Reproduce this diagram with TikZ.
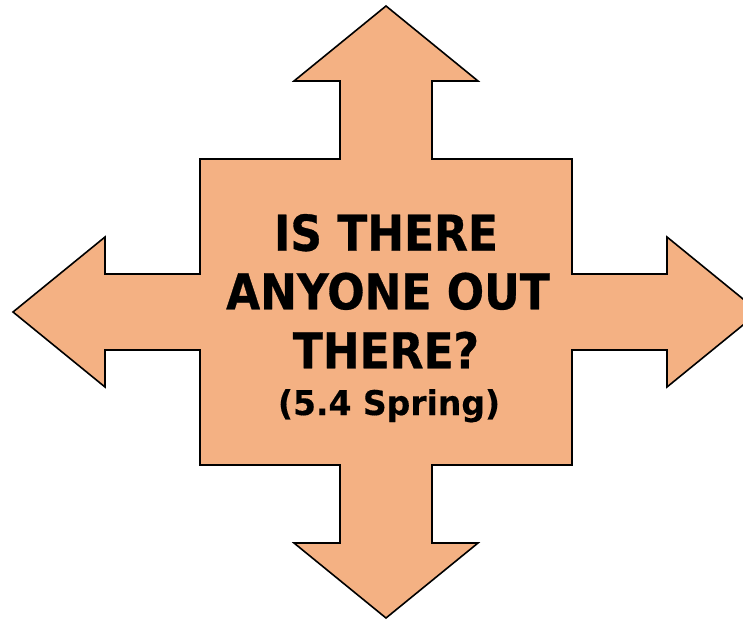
\documentclass[tikz,border=0pt]{standalone}
\usepackage{fontspec}
\usepackage{xcolor}
\usepackage{tikz}
\newfontfamily\titlefont{DejaVu Sans}[FakeStretch=0.89,FakeBold=0.6]
\newfontfamily\seasonfont{DejaVu Sans}[FakeStretch=0.97,FakeBold=0.4]

\begin{document}
\begin{tikzpicture}[x=1pt,y=-1pt]
      \definecolor{cA}{RGB}{244,177,131}
      \useasboundingbox (0,0) rectangle (743,620);
      % four-way arrow
      \draw[fill=cA,line width=1.6pt,line join=miter]
        (386,6) -- (478,81) -- (432,81) -- (432,159) -- (572,159) -- (572,274)
        -- (667,274) -- (667,237) -- (759,312) -- (667,387) -- (667,350) -- (572,350)
        -- (572,465) -- (432,465) -- (432,543) -- (478,543) -- (386,618) -- (294,543)
        -- (340,543) -- (340,465) -- (200,465) -- (200,350) -- (105,350) -- (105,387)
        -- (13,312) -- (105,237) -- (105,274) -- (200,274) -- (200,159) -- (340,159)
        -- (340,81) -- (294,81) -- cycle;
      \node[anchor=base,font=\titlefont\bfseries\fontsize{49.4}{59}\selectfont] (line1) at (386,250.7) {IS THERE};
      \node[anchor=base,font=\titlefont\bfseries\fontsize{49.4}{59}\selectfont] (line2) at (388,309.3) {ANYONE OUT};
      \node[anchor=base,font=\titlefont\bfseries\fontsize{49.4}{59}\selectfont] (line3) at (386,368.3) {THERE?};
      \node[anchor=base,font=\seasonfont\bfseries\fontsize{34}{40}\selectfont] (season) at (389,415) {(5.4 Spring)};
    \end{tikzpicture}
\end{document}
